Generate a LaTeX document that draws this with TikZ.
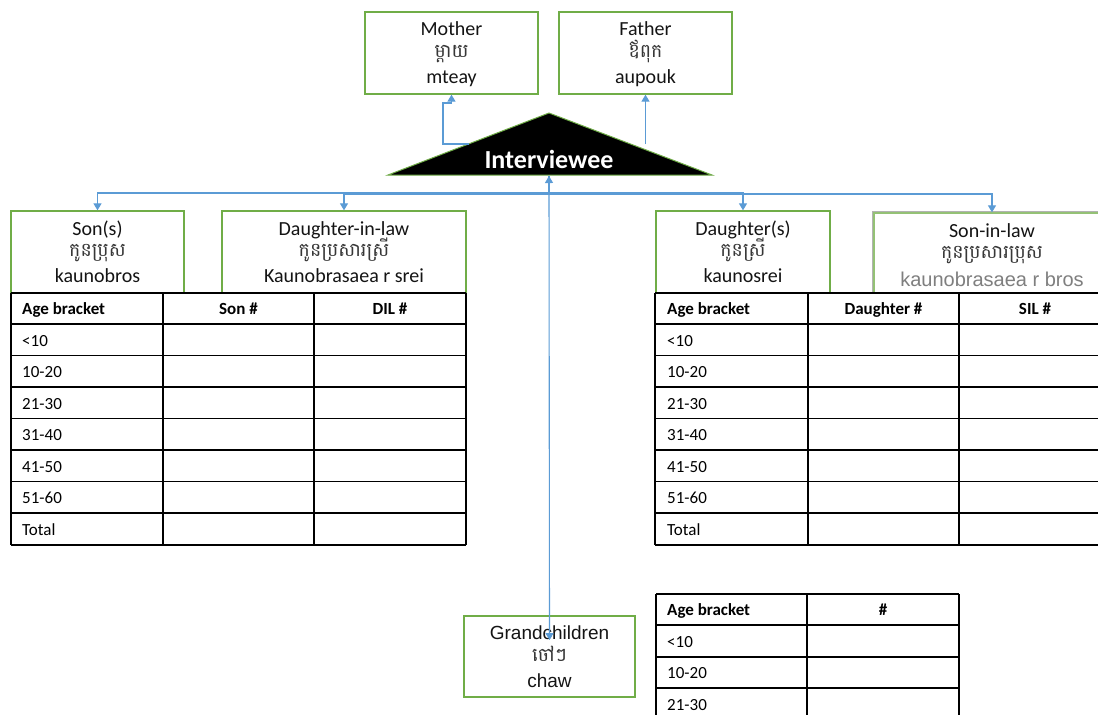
\documentclass[tikz,border=0pt]{standalone}
\usepackage{fontspec}
\setmainfont{Carlito}
\newfontfamily\arialf{Liberation Sans}
\newfontfamily\khmerf[Script=Khmer]{Battambang}
\usetikzlibrary{arrows.meta,fit}
\definecolor{boxgreen}{RGB}{112,173,71}
\definecolor{conblue}{RGB}{91,155,213}
\definecolor{labgray}{RGB}{127,127,127}
\definecolor{txt}{RGB}{20,20,20}
\begin{document}
\begin{tikzpicture}[x=1pt,y=-1pt,
  famb/.style={draw=boxgreen, line width=1.3pt, fill=white, inner sep=0pt},
  tip/.style={-{Triangle[width=8pt,length=7pt]}},
  conn/.style={draw=conblue, line width=1.1pt, tip},
  lat/.style={anchor=base, inner sep=0pt, text=txt, font=\fontsize{20}{24}\selectfont},
  khm/.style={anchor=base, inner sep=0pt, text=txt!85, font=\khmerf\fontsize{19}{22}\selectfont},
  ari/.style={anchor=base, inner sep=0pt, text=txt, font=\arialf\fontsize{19}{23}\selectfont},
  grid/.style={draw=black, line width=1.1pt},
  th/.style={anchor=base, inner sep=0pt, text=black, font=\bfseries\fontsize{17}{20}\selectfont},
  thl/.style={anchor=base west, inner sep=0pt, text=black, font=\bfseries\fontsize{17}{20}\selectfont},
  td/.style={anchor=base west, inner sep=0pt, text=black, font=\fontsize{17}{20}\selectfont},
]
\useasboundingbox (0,0) rectangle (1098,715);
\clip (0,0) rectangle (1098,715);

% ---------- boxes ----------
\coordinate (m1) at (365,12); \coordinate (m2) at (538,94);
\node[famb, fit=(m1)(m2)] (mother) {};
\coordinate (f1) at (559,12); \coordinate (f2) at (732,94);
\node[famb, fit=(f1)(f2)] (father) {};
\coordinate (s1) at (11,211); \coordinate (s2) at (184,294);
\node[famb, fit=(s1)(s2)] (son) {};
\coordinate (d1) at (222,211); \coordinate (d2) at (466,294);
\node[famb, fit=(d1)(d2)] (dil) {};
\coordinate (g1) at (656,211); \coordinate (g2) at (830,294);
\node[famb, fit=(g1)(g2)] (dau) {};
\coordinate (l1) at (874,213); \coordinate (l2) at (1110,295);
\draw[labgray!60, line width=0.8pt] (872.5,211.5) rectangle (1112,296.5);
\node[famb, draw=boxgreen!75, fit=(l1)(l2)] (sil) {};
\coordinate (c1) at (464,616); \coordinate (c2) at (635,697);
\node[famb, fit=(c1)(c2)] (gc) {};

% ---------- box texts ----------
\node[lat] (motherA) at (451.5,35) {Mother};
\node[khm] (motherB) at (451.5,57) {ម្តាយ};
\node[lat] (motherC) at (451.5,83) {mteay};
\node[lat] (fatherA) at (645.5,35) {Father};
\node[khm] (fatherB) at (645.5,57) {ឪពុក};
\node[lat] (fatherC) at (645.5,83) {aupouk};
\node[lat] (sonA) at (97.5,235) {Son(s)};
\node[khm] (sonB) at (97.5,256) {កូនប្រុស};
\node[lat] (sonC) at (97.5,282) {kaunobros};
\node[lat] (dilA) at (344,235) {Daughter-in-law};
\node[khm] (dilB) at (344,256) {កូនប្រសារស្រី};
\node[lat] (dilC) at (344,282) {Kaunobrasaea r srei};
\node[lat] (dauA) at (743,235) {Daughter(s)};
\node[khm] (dauB) at (743,256) {កូនស្រី};
\node[lat] (dauC) at (743,282) {kaunosrei};
\node[lat] (silA) at (992,237) {Son-in-law};
\node[khm] (silB) at (992,258) {កូនប្រសារប្រុស};
\node[ari, text=labgray, font=\arialf\fontsize{20}{24}\selectfont] (silC) at (992,286) {kaunobrasaea r bros};
\node[ari] (gcA) at (549.5,639) {Grandchildren};
\node[khm] (gcB) at (549.5,661) {ចៅៗ};
\node[ari] (gcC) at (549.5,687) {chaw};

% ---------- interviewee triangle ----------
\coordinate (ivTop) at (549,113);
\coordinate (ivR) at (712,175);
\coordinate (ivL) at (388,175);
\filldraw[fill=black, draw=boxgreen, line width=1pt] (ivTop) -- (ivR) -- (ivL) -- cycle;
\node[anchor=base, inner sep=0pt, text=white, font=\bfseries\fontsize{26}{30}\selectfont] (iv) at (549,168) {Interviewee};
\coordinate (ivB) at (549,176);
\coordinate (ivML) at (469,144);
\coordinate (ivMR) at (645.5,144);
\coordinate (busL) at (549,193);
\coordinate (busR) at (549,194);
\coordinate (gcTip) at (549.5,640);

% ---------- tables ----------
% left
\fill[white] (11,293) rectangle (466,545);
\foreach \y in {293,324,355.5,387,418.5,450,481.5,513,545} \draw[grid] (11,\y) -- (466,\y);
\foreach \x in {11,163,314,466} \draw[grid] (\x,293) -- (\x,545);
\node[thl] (lh1) at (22,314) {Age bracket};
\node[th] (lh2) at (238.5,314) {Son \#};
\node[th] (lh3) at (390,314) {DIL \#};
\foreach \t [count=\i] in {<10,10-20,21-30,31-40,41-50,51-60,Total}{
  \pgfmathsetmacro{\yy}{324+(\i-1)*31.5+22}
  \node[td] (lr\i) at (22,\yy) {\t};
}
% right
\fill[white] (655,293) rectangle (1111,545);
\foreach \y in {293,324,355.5,387,418.5,450,481.5,513,545} \draw[grid] (655,\y) -- (1111,\y);
\foreach \x in {655,808,959,1111} \draw[grid] (\x,293) -- (\x,545);
\node[thl] (rh1) at (667,314) {Age bracket};
\node[th] (rh2) at (883.5,314) {Daughter \#};
\node[th] (rh3) at (1035,314) {SIL \#};
\foreach \t [count=\i] in {<10,10-20,21-30,31-40,41-50,51-60,Total}{
  \pgfmathsetmacro{\yy}{324+(\i-1)*31.5+22}
  \node[td] (rr\i) at (667,\yy) {\t};
}
% bottom
\fill[white] (656,594) rectangle (959,720);
\foreach \y in {594,625,657,688,720} \draw[grid] (656,\y) -- (959,\y);
\foreach \x in {656,807,959} \draw[grid] (\x,594) -- (\x,720);
\node[thl] (bh1) at (667,615) {Age bracket};
\node[th] (bh2) at (883,615) {\#};
\node[td] (br1) at (667,647) {<10};
\node[td] (br2) at (667,678) {10-20};
\node[td] (br3) at (667,710) {21-30};

% ---------- connectors ----------
\draw[conn] (ivML) -| (443,103) -| (mother.south);
\draw[conn] (ivMR) -- (father.south);
\draw[conn] (ivB) -- (busL) -| (son.north);
\draw[conn] (ivB) -- (busR) -| (dil.north);
\draw[conn] (ivB) -- (busL) -| (dau.north);
\draw[conn] (ivB) -- (busR) -| (sil.north);
\draw[draw=conblue, line width=1.1pt, {Triangle[width=8pt,length=7pt]}-{Triangle[width=8pt,length=7pt]}] (ivB) -- (gcTip);
\end{tikzpicture}
\end{document}
